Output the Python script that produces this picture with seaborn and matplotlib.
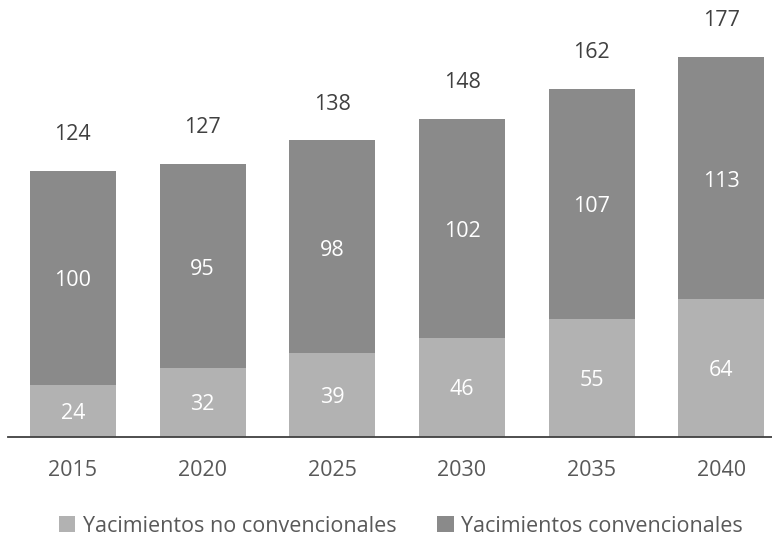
import matplotlib
matplotlib.use("Agg")
import matplotlib.pyplot as plt
import seaborn as sns
import pandas as pd

years = ["2015", "2020", "2025", "2030", "2035", "2040"]
no_convencionales = [24, 32, 39, 46, 55, 64]
convencionales = [100, 95, 98, 102, 107, 113]
totales = [124, 127, 138, 148, 162, 177]

sns.set_theme(style="white")
plt.rcParams["font.family"] = ["Open Sans", "DejaVu Sans"]

df = pd.DataFrame({
    "year": years,
    "no_conv": no_convencionales,
    "conv": convencionales,
    "total": totales,
})

light = "#b2b2b2"
dark = "#8a8a8a"

fig = plt.figure(figsize=(7.72, 5.40), dpi=100)
ax = fig.add_axes([8 / 772, (540 - 436.5) / 540, 764 / 772, 436.5 / 540])

# Full stack first (conventional colour), then the unconventional base on top of it
sns.barplot(data=df, x="year", y="total", color=dark, width=0.664,
            saturation=1, ax=ax, linewidth=0, label="Yacimientos convencionales")
sns.barplot(data=df, x="year", y="no_conv", color=light, width=0.664,
            saturation=1, ax=ax, linewidth=0, label="Yacimientos no convencionales")
if ax.get_legend() is not None:
    ax.get_legend().remove()

ax.set_xlim(-0.5, 5.39)
ax.set_ylim(0, 203.5)
ax.set_xlabel("")
ax.set_ylabel("")
ax.set_yticks([])
for side in ["left", "right", "top"]:
    ax.spines[side].set_visible(False)
ax.spines["bottom"].set_color("#404040")
ax.spines["bottom"].set_linewidth(1.3)
ax.tick_params(axis="x", length=0, pad=17, labelsize=15.5, labelcolor="#595959")

for i in range(len(years)):
    nc = no_convencionales[i]
    c = convencionales[i]
    t = totales[i]
    ax.text(i, nc / 2 - 1.3, str(nc), ha="center", va="center", color="white", fontsize=15.5)
    ax.text(i, nc + c / 2 - 1.5, str(c), ha="center", va="center", color="white", fontsize=15.5)
    ax.text(i, t + 17, str(t), ha="center", va="center", color="#404040", fontsize=15.5)

handles, labels = ax.get_legend_handles_labels()
order = [labels.index("Yacimientos no convencionales"), labels.index("Yacimientos convencionales")]
leg = fig.legend([handles[k] for k in order], [labels[k] for k in order],
                 loc="center", bbox_to_anchor=(401 / 772, (540 - 526) / 540),
                 ncol=2, frameon=False, fontsize=15.5, handlelength=0.75,
                 handleheight=0.75, handletextpad=0.35, columnspacing=1.9,
                 borderaxespad=0)
for txt in leg.get_texts():
    txt.set_color("#595959")

fig.savefig("out.png", dpi=100)
